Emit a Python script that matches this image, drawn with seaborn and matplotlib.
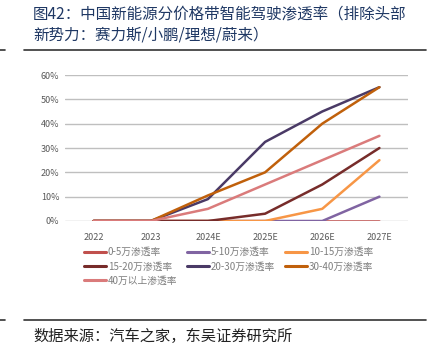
import matplotlib
matplotlib.use("Agg")
import matplotlib.pyplot as plt
import seaborn as sns
import pandas as pd
from matplotlib.lines import Line2D
from matplotlib.ticker import PercentFormatter

years = ["2022", "2023", "2024E", "2025E", "2026E", "2027E"]
series_names = ["0-5万渗透率", "5-10万渗透率", "10-15万渗透率", "15-20万渗透率",
                "20-30万渗透率", "30-40万渗透率", "40万以上渗透率"]
s_0_5 = [0, 0, 0, 0, 0, 0]
s_5_10 = [0, 0, 0, 0, 0, 10]
s_10_15 = [0, 0, 0, 0, 5, 25]
s_15_20 = [0, 0, 0, 3, 15, 30]
s_20_30 = [0, 0, 9, 32.5, 45, 55]
s_30_40 = [0, 0, 10.5, 20, 40, 55]
s_40p = [0, 0, 5, 15, 25, 35]
values = [s_0_5, s_5_10, s_10_15, s_15_20, s_20_30, s_30_40, s_40p]
colors = ["#c0504d", "#8064a2", "#f79646", "#772c2a", "#4a3a66", "#c0600b", "#da7b7b"]

rows = []
for name, vals in zip(series_names, values):
    for i, (y, v) in enumerate(zip(years, vals)):
        rows.append({"year": y, "idx": i, "series": name, "value": v / 100})
df = pd.DataFrame(rows)

sns.set_theme(style="white")
plt.rcParams['font.family'] = ['Noto Sans CJK SC', 'DejaVu Sans']

W, H = 435, 353
fig = plt.figure(figsize=(W / 100, H / 100), dpi=100)
ax = fig.add_axes([65 / W, (H - 221) / H, (408 - 65) / W, (221 - 75) / H])

sns.lineplot(data=df, x="idx", y="value", hue="series", hue_order=series_names,
             palette=colors, linewidth=1.8, ax=ax, legend=False, sort=False)

ax.set_xlim(-0.5, 5.5)
ax.set_ylim(0, 0.6)
ax.set_yticks([0, 0.1, 0.2, 0.3, 0.4, 0.5, 0.6])
ax.yaxis.set_major_formatter(PercentFormatter(1.0, decimals=0))
ax.set_xticks(range(len(years)))
ax.set_xticklabels(years)
ax.set_xlabel("")
ax.set_ylabel("")
ax.grid(axis="y", color="#bfbfbf", linewidth=1.0)
ax.grid(axis="x", visible=False)
for sp in ax.spines.values():
    sp.set_visible(False)
ax.set_axisbelow(True)
ax.tick_params(axis="both", colors="#595959", labelsize=6.5, length=0, pad=4)
ax.tick_params(axis="x", pad=9)

handles = [Line2D([0], [0], color=c, linewidth=2.2) for c in colors]
order = [0, 3, 6, 1, 4, 2, 5]
leg = fig.legend([handles[i] for i in order], [series_names[i] for i in order],
                 ncol=3, loc="upper left", bbox_to_anchor=(84 / W, 1 - 247 / H),
                 frameon=False, fontsize=7, handlelength=2.3, handletextpad=0.15,
                 columnspacing=1.0, labelspacing=0.45, borderaxespad=0, borderpad=0)
for t in leg.get_texts():
    t.set_color("#7f7f7f")

title_color = "#1f3864"
fig.text(33 / W, 1 - 15 / H, "图42：中国新能源分价格带智能驾驶渗透率（排除头部",
         fontsize=11.2, color=title_color, va="center", ha="left", fontweight="medium")
fig.text(33 / W, 1 - 35 / H, "新势力：赛力斯/小鹏/理想/蔚来）",
         fontsize=11.2, color=title_color, va="center", ha="left", fontweight="medium")

fig.add_artist(Line2D([24 / W, 426 / W], [1 - 50 / H, 1 - 50 / H], color="#333333", linewidth=1.2))
fig.add_artist(Line2D([0, 5 / W], [1 - 50 / H, 1 - 50 / H], color="#333333", linewidth=1.2))
fig.add_artist(Line2D([24 / W, 426 / W], [1 - 320 / H, 1 - 320 / H], color="#333333", linewidth=1.2))
fig.add_artist(Line2D([0, 5 / W], [1 - 320 / H, 1 - 320 / H], color="#333333", linewidth=1.2))
fig.text(33 / W, 1 - 336 / H, "数据来源：汽车之家，东吴证券研究所",
         fontsize=11, color="#222222", va="center", ha="left")

fig.savefig("out.png", dpi=100)
